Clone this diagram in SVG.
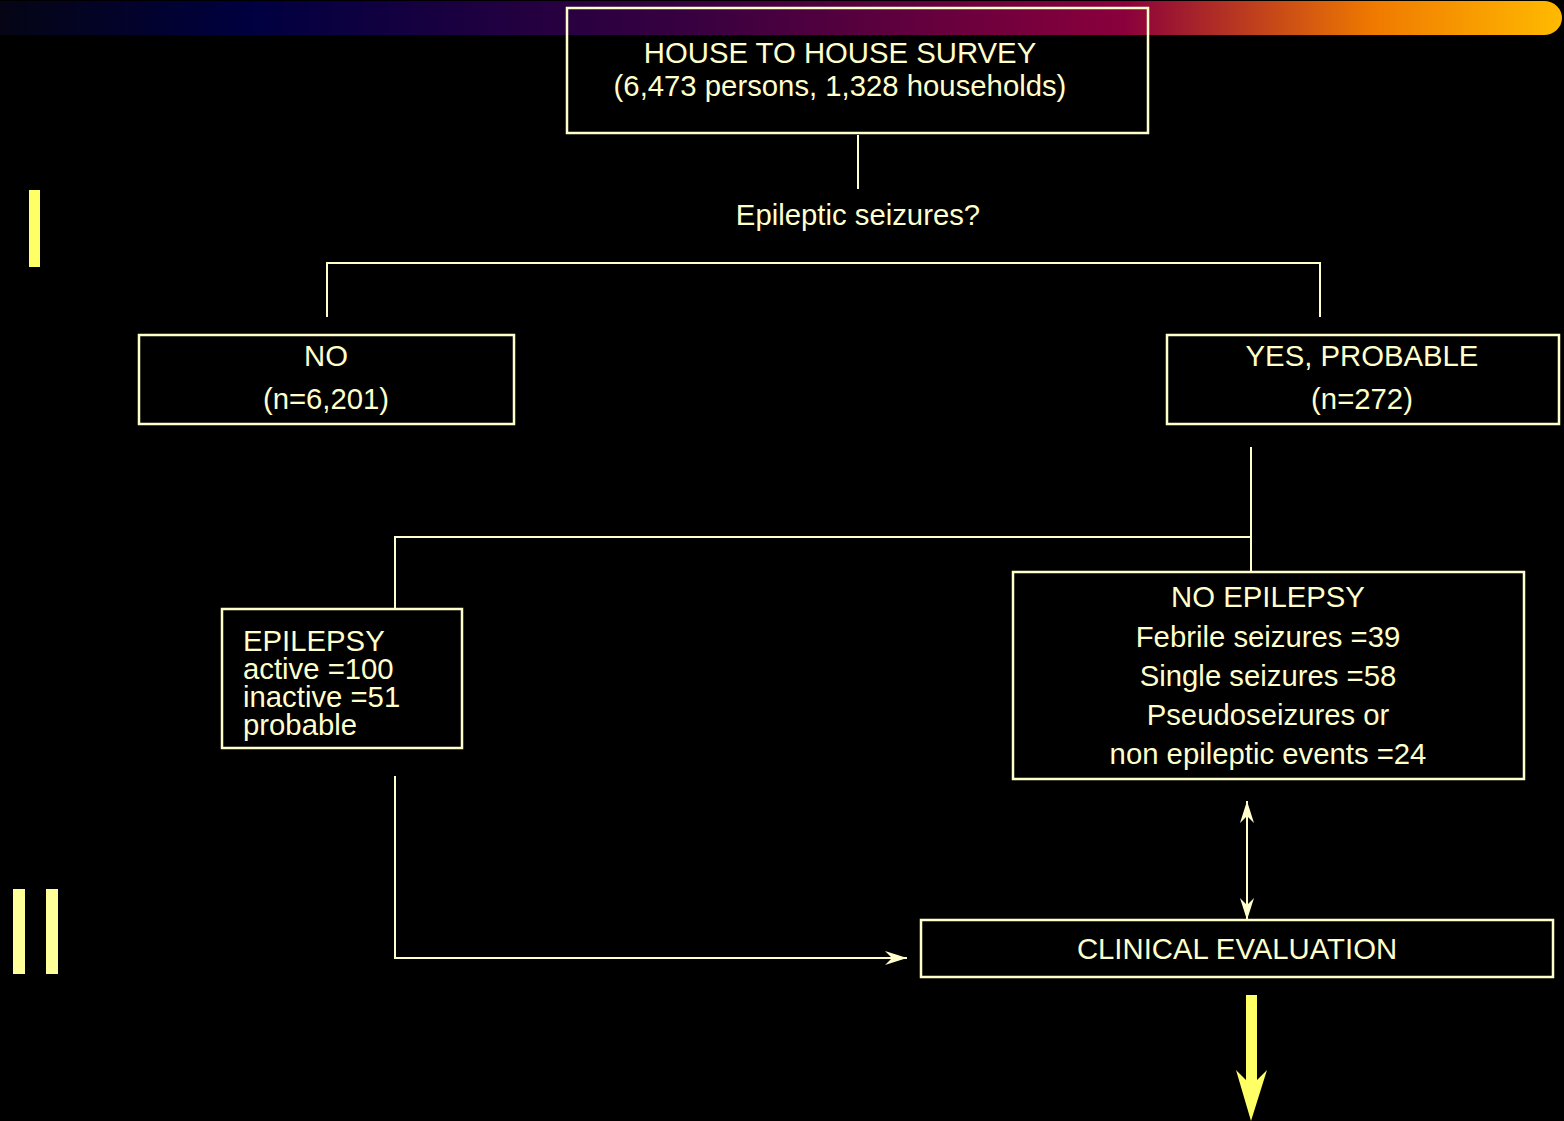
<svg xmlns="http://www.w3.org/2000/svg" width="1564" height="1121" viewBox="0 0 1564 1121">
<style>
.box{fill:none;stroke:#FFFFCC;stroke-width:2.5}
.ln{fill:none;stroke:#FFFFCC;stroke-width:2}
.t{font-family:"Liberation Sans",Arial,sans-serif;font-size:29.3px;fill:#FFFFCC}
.c{text-anchor:middle}
</style>
<defs>
<linearGradient id="bar" x1="0" y1="0" x2="1" y2="0">
<stop offset="0" stop-color="#050515"/>
<stop offset="0.16" stop-color="#000040"/>
<stop offset="0.45" stop-color="#3a0040"/>
<stop offset="0.72" stop-color="#8a003c"/>
<stop offset="0.88" stop-color="#f07a00"/>
<stop offset="1" stop-color="#ffba00"/>
</linearGradient>
<marker id="ah" viewBox="0 0 22 14" refX="22" refY="7" markerWidth="22" markerHeight="14" markerUnits="userSpaceOnUse" orient="auto-start-reverse">
<path d="M0,0 L22,7 L0,14 L7,7 Z" fill="#FFFFCC"/>
</marker>
</defs>
<rect width="1564" height="1121" fill="#000"/>
<path d="M0,1 H1544 A18,17 0 0 1 1544,35 H0 Z" fill="url(#bar)"/>
<rect x="29" y="190" width="11" height="77" fill="#FFFF66"/>
<rect x="13" y="889" width="12" height="85" fill="#FFFF99"/>
<rect x="46" y="889" width="12" height="85" fill="#FFFF99"/>
<g id="connectors">
<line class="ln" x1="858" y1="135" x2="858" y2="189"/>
<polyline class="ln" points="327,317 327,263 1320,263 1320,317"/>
<line class="ln" x1="1251" y1="447" x2="1251" y2="572"/>
<polyline class="ln" points="1251,537 395,537 395,609"/>
<polyline class="ln" points="395,776 395,958 907,958" marker-end="url(#ah)"/>
<line class="ln" x1="1247" y1="801" x2="1247" y2="920" marker-start="url(#ah)" marker-end="url(#ah)"/>
<path d="M1246,995 H1257 V1080 L1267,1070 L1251,1121 L1236,1070 L1246,1080 Z" fill="#FFFF66"/>
</g>
<g id="survey">
<rect class="box" x="567" y="8" width="581" height="125"/>
<text class="t c" x="840" y="63">HOUSE TO HOUSE SURVEY</text>
<text class="t c" x="840" y="96">(6,473 persons, 1,328 households)</text>
</g>
<g id="question">
<text class="t c" x="858" y="225">Epileptic seizures?</text>
</g>
<g id="no">
<rect class="box" x="139" y="335" width="375" height="89"/>
<text class="t c" x="326" y="366">NO</text>
<text class="t c" x="326" y="409">(n=6,201)</text>
</g>
<g id="yes">
<rect class="box" x="1167" y="335" width="392" height="89"/>
<text class="t c" x="1362" y="366">YES, PROBABLE</text>
<text class="t c" x="1362" y="409">(n=272)</text>
</g>
<g id="epilepsy">
<rect class="box" x="222" y="609" width="240" height="139"/>
<text class="t" x="243" y="651">EPILEPSY</text>
<text class="t" x="243" y="679">active =100</text>
<text class="t" x="243" y="707">inactive =51</text>
<text class="t" x="243" y="735">probable</text>
</g>
<g id="noepilepsy">
<rect class="box" x="1013" y="572" width="511" height="207"/>
<text class="t c" x="1268" y="607">NO EPILEPSY</text>
<text class="t c" x="1268" y="647">Febrile seizures =39</text>
<text class="t c" x="1268" y="686">Single seizures =58</text>
<text class="t c" x="1268" y="725">Pseudoseizures or</text>
<text class="t c" x="1268" y="764">non epileptic events =24</text>
</g>
<g id="clinical">
<rect class="box" x="921" y="920" width="632" height="57"/>
<text class="t c" x="1237" y="959">CLINICAL EVALUATION</text>
</g>
</svg>
